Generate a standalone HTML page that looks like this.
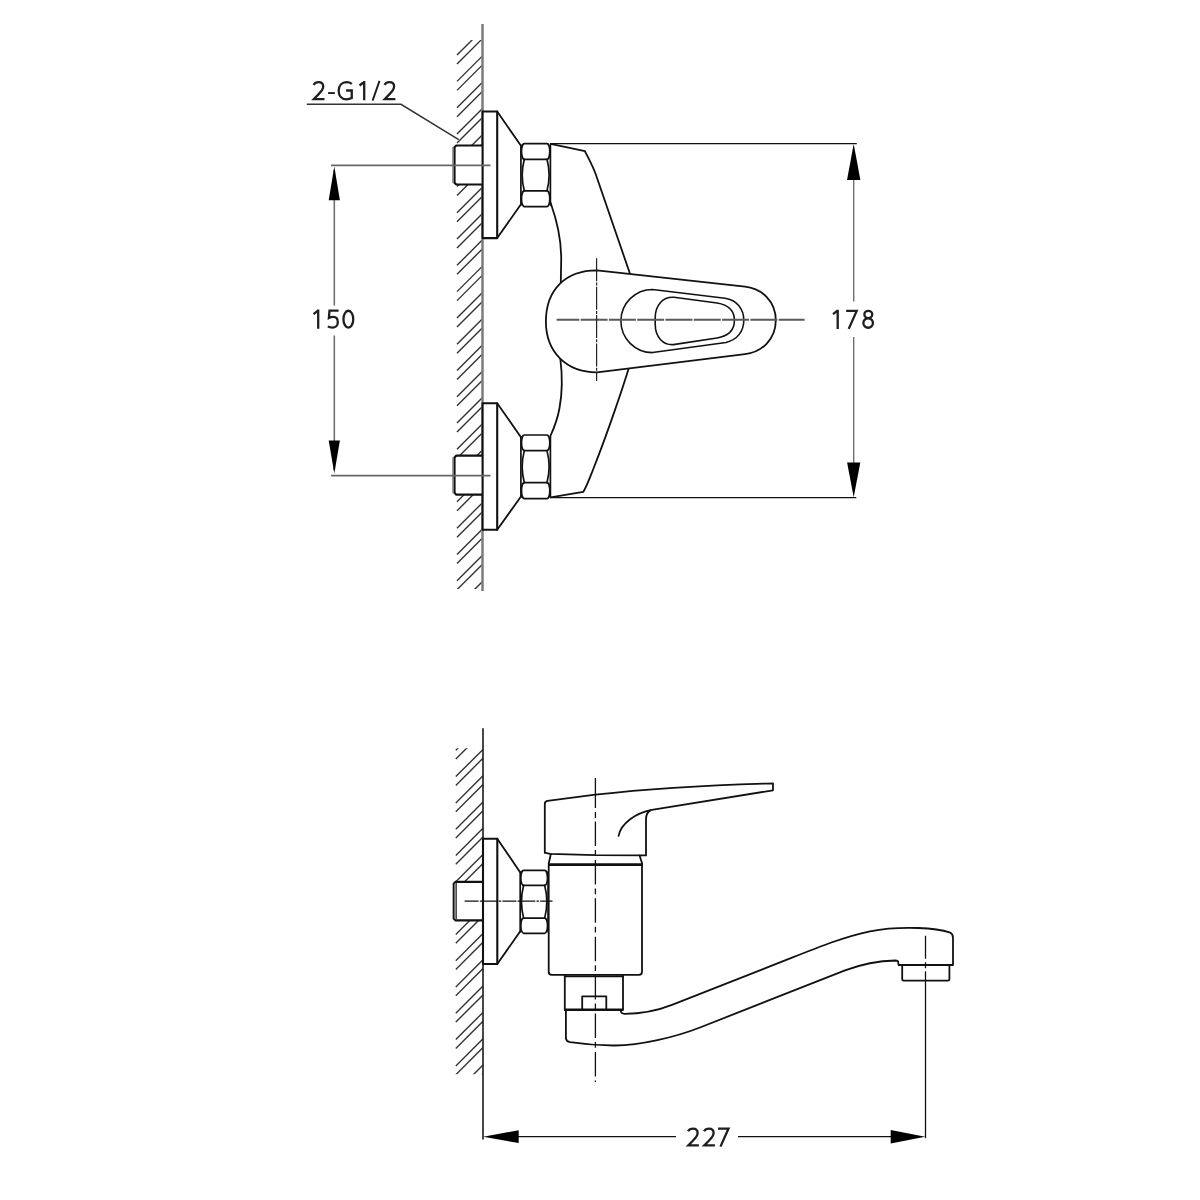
<!DOCTYPE html><html><head><meta charset="utf-8"><title>Mixer drawing</title><style>
html,body{margin:0;padding:0;background:#fff;width:1200px;height:1200px;overflow:hidden}
svg{display:block}
.o{fill:none;stroke:#111;stroke-width:1.8;stroke-linejoin:round;stroke-linecap:round}
.n{fill:none;stroke:#111;stroke-width:1.7;stroke-linecap:round}
.h{stroke:#333;stroke-width:1.4;fill:none}
.t{fill:none;stroke:#111;stroke-width:1.2}
.g{fill:none;stroke:#707070;stroke-width:1.6}
.c{fill:none;stroke:#444;stroke-width:1.3;stroke-dasharray:24 1.6 3 1.6}
.c2{fill:none;stroke:#111;stroke-width:1.3;stroke-dasharray:25 3.5 5.5 3.5}
.w{fill:#fff;stroke:#111;stroke-width:1.8}
.ar{fill:#000;stroke:none}
text{font-family:"Liberation Sans",sans-serif;fill:#222;font-size:26.5px}
</style></head><body>
<svg width="1200" height="1200" viewBox="0 0 1200 1200">
<clipPath id="ht"><rect x="456" y="40" width="26" height="549"/></clipPath>
<g clip-path="url(#ht)" class="h">
<line class="h" x1="457" y1="55.1" x2="482" y2="30.1"/>
<line class="h" x1="457" y1="64.1" x2="482" y2="39.1"/>
<line class="h" x1="457" y1="81.38" x2="482" y2="56.38"/>
<line class="h" x1="457" y1="90.38" x2="482" y2="65.38"/>
<line class="h" x1="457" y1="107.66" x2="482" y2="82.66"/>
<line class="h" x1="457" y1="116.66" x2="482" y2="91.66"/>
<line class="h" x1="457" y1="133.94" x2="482" y2="108.94"/>
<line class="h" x1="457" y1="142.94" x2="482" y2="117.94"/>
<line class="h" x1="457" y1="160.22" x2="482" y2="135.22"/>
<line class="h" x1="457" y1="169.22" x2="482" y2="144.22"/>
<line class="h" x1="457" y1="186.5" x2="482" y2="161.5"/>
<line class="h" x1="457" y1="195.5" x2="482" y2="170.5"/>
<line class="h" x1="457" y1="212.78" x2="482" y2="187.78"/>
<line class="h" x1="457" y1="221.78" x2="482" y2="196.78"/>
<line class="h" x1="457" y1="239.06" x2="482" y2="214.06"/>
<line class="h" x1="457" y1="248.06" x2="482" y2="223.06"/>
<line class="h" x1="457" y1="265.34" x2="482" y2="240.34"/>
<line class="h" x1="457" y1="274.34" x2="482" y2="249.34"/>
<line class="h" x1="457" y1="291.62" x2="482" y2="266.62"/>
<line class="h" x1="457" y1="300.62" x2="482" y2="275.62"/>
<line class="h" x1="457" y1="317.9" x2="482" y2="292.9"/>
<line class="h" x1="457" y1="326.9" x2="482" y2="301.9"/>
<line class="h" x1="457" y1="344.18" x2="482" y2="319.18"/>
<line class="h" x1="457" y1="353.18" x2="482" y2="328.18"/>
<line class="h" x1="457" y1="370.46" x2="482" y2="345.46"/>
<line class="h" x1="457" y1="379.46" x2="482" y2="354.46"/>
<line class="h" x1="457" y1="396.74" x2="482" y2="371.74"/>
<line class="h" x1="457" y1="405.74" x2="482" y2="380.74"/>
<line class="h" x1="457" y1="423.02" x2="482" y2="398.02"/>
<line class="h" x1="457" y1="432.02" x2="482" y2="407.02"/>
<line class="h" x1="457" y1="449.3" x2="482" y2="424.3"/>
<line class="h" x1="457" y1="458.3" x2="482" y2="433.3"/>
<line class="h" x1="457" y1="475.58" x2="482" y2="450.58"/>
<line class="h" x1="457" y1="484.58" x2="482" y2="459.58"/>
<line class="h" x1="457" y1="501.86" x2="482" y2="476.86"/>
<line class="h" x1="457" y1="510.86" x2="482" y2="485.86"/>
<line class="h" x1="457" y1="528.14" x2="482" y2="503.14"/>
<line class="h" x1="457" y1="537.14" x2="482" y2="512.14"/>
<line class="h" x1="457" y1="554.42" x2="482" y2="529.42"/>
<line class="h" x1="457" y1="563.42" x2="482" y2="538.42"/>
<line class="h" x1="457" y1="580.7" x2="482" y2="555.7"/>
<line class="h" x1="457" y1="589.7" x2="482" y2="564.7"/>
<line class="h" x1="457" y1="606.98" x2="482" y2="581.98"/>
</g>
<line x1="482.5" y1="24" x2="482.5" y2="591" stroke="#7c7c7c" stroke-width="2.5"/>
<path d="M482,145.5 L456.3,145.5 L454.5,147.3 L454.5,182.7 L456.3,184.5 L482,184.5" fill="#fff" stroke="#111" stroke-width="2.2"/>
<line x1="452.8" y1="147" x2="452.8" y2="183" stroke="#8a8a8a" stroke-width="1.3"/>
<rect class="o" x="482.6" y="111.5" width="14.6" height="126.6" style="stroke-width:2.1;fill:#fff"/>
<path class="o" d="M497.2,111.5 L520.8,145.6 M497.2,238.1 L520.8,204.6"/>
<line class="n" x1="520.9" y1="145.1" x2="520.9" y2="205.1"/>
<line class="n" x1="550.4" y1="145.1" x2="550.4" y2="205.1"/>
<path class="n" d="M524.3,143.6 L547,143.6 A2.8,7.85 0 0 1 547,159.3 L524.3,159.3 A2.8,7.85 0 0 1 524.3,143.6 Z"/>
<path class="n" d="M524.3,190.8 L547,190.8 A2.8,7.9 0 0 1 547,206.6 L524.3,206.6 A2.8,7.9 0 0 1 524.3,190.8 Z"/>
<path class="n" d="M524.3,159.3 Q520.1,175.05 524.3,190.8"/>
<path class="n" d="M547,159.3 Q551.2,175.05 547,190.8"/>
<path d="M482,455.7 L456.3,455.7 L454.5,457.5 L454.5,492.9 L456.3,494.7 L482,494.7" fill="#fff" stroke="#111" stroke-width="2.2"/>
<line x1="452.8" y1="457.2" x2="452.8" y2="493.2" stroke="#8a8a8a" stroke-width="1.3"/>
<rect class="o" x="482.6" y="403.2" width="14.6" height="126.6" style="stroke-width:2.1;fill:#fff"/>
<path class="o" d="M497.2,403.2 L520.8,437 M497.2,529.8 L520.8,496.7"/>
<line class="n" x1="520.9" y1="436.5" x2="520.9" y2="497.2"/>
<line class="n" x1="550.4" y1="436.5" x2="550.4" y2="497.2"/>
<path class="n" d="M524.3,435 L547,435 A2.8,7.8 0 0 1 547,450.6 L524.3,450.6 A2.8,7.8 0 0 1 524.3,435 Z"/>
<path class="n" d="M524.3,482.6 L547,482.6 A2.8,8.05 0 0 1 547,498.7 L524.3,498.7 A2.8,8.05 0 0 1 524.3,482.6 Z"/>
<path class="n" d="M524.3,450.6 Q520.1,466.6 524.3,482.6"/>
<path class="n" d="M547,450.6 Q551.2,466.6 547,482.6"/>
<line x1="331" y1="165.4" x2="490.5" y2="165.4" stroke="#666" stroke-width="1.8"/>
<line x1="331" y1="475.6" x2="490.5" y2="475.6" stroke="#666" stroke-width="1.8"/>
<path d="M306.8,104.3 L401,104.3 L458.7,139.7" fill="none" stroke="#333" stroke-width="1.5"/>
<path transform="translate(312.6,81)" d="M1.0,3.9 C2.0,2.0 3.9,1.15 6.0,1.15 C8.9,1.15 10.6,2.9 10.6,5.5 C10.6,8.4 8.6,10.6 5.6,13.6 L1.3,18.05 L11.9,18.05" fill="none" stroke="#1e1e1e" stroke-width="2.3" stroke-miterlimit="6"/>
<path d="M328.1,93.05 h6.7" fill="none" stroke="#1e1e1e" stroke-width="1.9"/>
<path transform="translate(337.5,81)" d="M14.3,2.8 C12.9,1.7 11.1,1.15 9.1,1.15 C4.4,1.15 1.15,4.5 1.15,9.8 C1.15,15 4.3,18.3 8.9,18.3 C10.9,18.3 12.8,17.8 14.25,17.0 L14.25,9.5 L8.6,9.5" fill="none" stroke="#1e1e1e" stroke-width="2.3" stroke-miterlimit="6"/>
<path transform="translate(359,81)" d="M0.5,4.5 L5.0,1.0 M5.2,0 L5.2,19.2" fill="none" stroke="#1e1e1e" stroke-width="2.3" stroke-miterlimit="6"/>
<path d="M372.6,100.6 L379.5,80.9" fill="none" stroke="#1e1e1e" stroke-width="1.9"/>
<path transform="translate(383.5,81)" d="M1.0,3.9 C2.0,2.0 3.9,1.15 6.0,1.15 C8.9,1.15 10.6,2.9 10.6,5.5 C10.6,8.4 8.6,10.6 5.6,13.6 L1.3,18.05 L11.9,18.05" fill="none" stroke="#1e1e1e" stroke-width="2.3" stroke-miterlimit="6"/>
<line class="g" x1="334.3" y1="170" x2="334.3" y2="305.5"/>
<line class="g" x1="334.3" y1="335.5" x2="334.3" y2="470"/>
<path class="ar" d="M334.3,166.6 L328.7,200.3 L339.9,200.3 Z"/>
<path class="ar" d="M334.3,473.6 L328.7,440.4 L339.9,440.4 Z"/>
<path transform="translate(313,309.6)" d="M0.5,4.5 L5.0,1.0 M5.2,0 L5.2,19.2" fill="none" stroke="#1e1e1e" stroke-width="2.3" stroke-miterlimit="6"/>
<path transform="translate(327.3,309.6)" d="M11.3,1.1 L2.2,1.1 L1.6,8.4 C3.0,7.6 4.5,7.3 5.9,7.3 C8.9,7.3 10.5,9.6 10.5,12.6 C10.5,16 8.1,18.05 5.0,18.05 C3.2,18.05 1.6,17.5 0.6,16.8" fill="none" stroke="#1e1e1e" stroke-width="2.3" stroke-miterlimit="6"/>
<path transform="translate(342.3,309.6)" d="M6.05,1.15 A4.9,8.45 0 1 1 6.05,18.05 A4.9,8.45 0 1 1 6.05,1.15 Z" fill="none" stroke="#1e1e1e" stroke-width="2.3" stroke-miterlimit="6"/>
<line class="t" x1="550.5" y1="143.6" x2="856.8" y2="143.6"/>
<line class="t" x1="550.5" y1="497.6" x2="856.3" y2="497.6"/>
<line class="g" x1="853.7" y1="175" x2="853.7" y2="301.5" style="stroke-width:1.4"/>
<line class="g" x1="853.7" y1="337" x2="853.7" y2="470" style="stroke-width:1.4"/>
<path class="ar" d="M853.7,144 L847,180 L860.4,180 Z"/>
<path class="ar" d="M853.7,497.2 L847.1,462.5 L860.3,462.5 Z"/>
<path transform="translate(832.5,309.7)" d="M0.5,4.5 L5.0,1.0 M5.2,0 L5.2,19.2" fill="none" stroke="#1e1e1e" stroke-width="2.3" stroke-miterlimit="6"/>
<path transform="translate(846.2,309.7)" d="M0,1.15 L10.5,1.15 L2.5,19.2" fill="none" stroke="#1e1e1e" stroke-width="2.3" stroke-miterlimit="6"/>
<path transform="translate(862.2,309.7)" d="M6.1,1.15 A3.95,3.6 0 1 1 6.1,8.35 A3.95,3.6 0 1 1 6.1,1.15 Z M5.95,8.55 A4.8,4.75 0 1 1 5.95,18.05 A4.8,4.75 0 1 1 5.95,8.55 Z" fill="none" stroke="#1e1e1e" stroke-width="2.3" stroke-miterlimit="6"/>
<path class="o" d="M550.6,143.8 L584.9,151.1 C587.5,156.5 592.9,166 596,175 L630,273.8"/>
<path class="o" d="M550.6,202.8 C556,218 561.5,240 561.2,260 L560.8,282.9"/>
<path class="o" d="M628.6,368.8 C624,384 608,432 593.5,468.5 C590,477.3 586.5,487 583.2,491.9 L550.6,497.4"/>
<path class="o" d="M560.3,358.5 C562,372 562.5,392 559.5,408 C557.5,420 554,428 550.6,435.5"/>
<path class="o" style="fill:#fff" d="M597,270.3 L745,286.6 C762,288.5 775.8,301.5 775.8,320.3 C775.8,339 762,352.3 745,354.2 L597,372.3 C566.3,372.3 545.9,352 545.9,321.5 C545.9,289.8 565.3,270.3 597,270.3 Z"/>
<path class="o" style="stroke-width:1.55" d="M652.5,289.4 L725,298.3 C737,300 743.8,309 743.8,320.2 C743.8,331.5 737,340 726,342.4 L652.5,352.6 A31.6,31.6 0 0 1 652.5,289.4 Z"/>
<path class="o" style="stroke-width:1.6" d="M674,297.3 L717,303 C728.5,304.8 734.4,311 734.4,320.5 C734.4,330 728.5,336 717,338 L675,344.4 C663,346 655.2,337 655.2,324 L655.2,318 C655.2,305 663,296.5 674,297.3 Z"/>
<line x1="556.6" y1="319.8" x2="804.6" y2="319.8" stroke="#5a5a5a" stroke-width="2" stroke-dasharray="27 1.3" stroke-dashoffset="4.3"/>
<line x1="596.6" y1="258.3" x2="596.6" y2="381" stroke="#222" stroke-width="1.2" stroke-dasharray="23 1.2 3 1.2"/>
<clipPath id="hb"><rect x="454.8" y="748.3" width="28.2" height="325.9"/></clipPath>
<g clip-path="url(#hb)" class="h">
<line class="h" x1="455.8" y1="750.3" x2="483" y2="723.1"/>
<line class="h" x1="455.8" y1="759.1" x2="483" y2="731.9"/>
<line class="h" x1="455.8" y1="776.6" x2="483" y2="749.4"/>
<line class="h" x1="455.8" y1="785.4" x2="483" y2="758.2"/>
<line class="h" x1="455.8" y1="802.9" x2="483" y2="775.7"/>
<line class="h" x1="455.8" y1="811.7" x2="483" y2="784.5"/>
<line class="h" x1="455.8" y1="829.2" x2="483" y2="802"/>
<line class="h" x1="455.8" y1="838" x2="483" y2="810.8"/>
<line class="h" x1="455.8" y1="855.5" x2="483" y2="828.3"/>
<line class="h" x1="455.8" y1="864.3" x2="483" y2="837.1"/>
<line class="h" x1="455.8" y1="881.8" x2="483" y2="854.6"/>
<line class="h" x1="455.8" y1="890.6" x2="483" y2="863.4"/>
<line class="h" x1="455.8" y1="908.1" x2="483" y2="880.9"/>
<line class="h" x1="455.8" y1="916.9" x2="483" y2="889.7"/>
<line class="h" x1="455.8" y1="934.4" x2="483" y2="907.2"/>
<line class="h" x1="455.8" y1="943.2" x2="483" y2="916"/>
<line class="h" x1="455.8" y1="960.7" x2="483" y2="933.5"/>
<line class="h" x1="455.8" y1="969.5" x2="483" y2="942.3"/>
<line class="h" x1="455.8" y1="987" x2="483" y2="959.8"/>
<line class="h" x1="455.8" y1="995.8" x2="483" y2="968.6"/>
<line class="h" x1="455.8" y1="1013.3" x2="483" y2="986.1"/>
<line class="h" x1="455.8" y1="1022.1" x2="483" y2="994.9"/>
<line class="h" x1="455.8" y1="1039.6" x2="483" y2="1012.4"/>
<line class="h" x1="455.8" y1="1048.4" x2="483" y2="1021.2"/>
<line class="h" x1="455.8" y1="1065.9" x2="483" y2="1038.7"/>
<line class="h" x1="455.8" y1="1074.7" x2="483" y2="1047.5"/>
<line class="h" x1="455.8" y1="1092.2" x2="483" y2="1065"/>
<line class="h" x1="455.8" y1="1101" x2="483" y2="1073.8"/>
</g>
<line x1="483" y1="728.3" x2="483" y2="1139.5" stroke="#1a1a1a" stroke-width="1.6"/>
<path d="M483,881.9 L455.6,881.9 L453.7,883.8 L453.7,918.5 L455.6,920.4 L483,920.4" fill="#fff" stroke="#111" stroke-width="2.1"/>
<line x1="455.2" y1="883.5" x2="455.2" y2="918.8" stroke="#8a8a8a" stroke-width="1.5"/>
<line x1="456.4" y1="883" x2="456.4" y2="919.3" stroke="#222" stroke-width="0.9"/>
<rect class="o" x="483" y="838.7" width="14.3" height="125.3" style="stroke-width:2.1;fill:#fff"/>
<path class="o" d="M497.3,838.7 L520.1,872.3 M497.3,964 L520.1,931.5"/>
<line class="n" x1="520.2" y1="871.9" x2="520.2" y2="931.8"/>
<line class="n" x1="548.1" y1="871.9" x2="548.1" y2="931.8"/>
<path class="n" d="M523.6,870.4 L544.7,870.4 A2.8,7.5 0 0 1 544.7,885.4 L523.6,885.4 A2.8,7.5 0 0 1 523.6,870.4 Z"/>
<path class="n" d="M523.6,918.1 L544.7,918.1 A2.8,7.6 0 0 1 544.7,933.3 L523.6,933.3 A2.8,7.6 0 0 1 523.6,918.1 Z"/>
<path class="n" d="M523.6,885.4 Q519.4,901.75 523.6,918.1"/>
<path class="n" d="M544.7,885.4 Q548.9,901.75 544.7,918.1"/>
<line class="c2" x1="464.6" y1="901.1" x2="552.5" y2="901.1" style="stroke-dasharray:14 1.2 2.5 1.2;stroke-width:1.2"/>
<path class="o" d="M544.8,852.6 L544.8,804 Q544.8,801.3 547.5,800.8 L595.4,794.7 C640,789.5 700,785.2 773,783.3 L773,790.3 L651.8,809.9 C636,813 621,823 618.6,835.8"/>
<path class="o" d="M544.8,852.6 L550,853.8 L595.4,855.2 L646,855.4 L646,819 Q646.2,812.5 650.5,810.4"/>
<path class="o" d="M550.8,854.2 L548.7,863.6 M639.6,855.5 L642.1,863.6"/>
<path class="o" d="M548.7,864.6 L548.7,971.8 Q548.7,974.8 551.7,974.8 L639,974.8 Q642,974.8 642,971.8 L642,864.6"/>
<line x1="548" y1="864.6" x2="642.6" y2="864.6" stroke="#111" stroke-width="2.6"/>
<path class="o" d="M564.8,975.8 L564.8,1009.6 M623,975.8 L623,1009.6"/>
<line x1="564" y1="976.4" x2="623.8" y2="976.4" stroke="#111" stroke-width="1.6"/>
<line x1="564" y1="1009.7" x2="623.6" y2="1009.7" stroke="#111" stroke-width="2.6"/>
<path class="o" d="M582.2,1009.3 L582.2,996.3 L606.3,996.3 L606.3,1009.3"/>
<path class="o" d="M565.9,1010.8 L565.9,1038.5 Q566.5,1041.5 570,1042.2 C585,1044.5 600,1045.6 615,1045.5 C640,1045.3 675,1037.35 700,1027.5 L845,970.4 C858,965.5 875,961 895.5,960.5 Q898,960.6 898.2,962 L898.5,965 L953,965 L953,937.5 Q953,934 949.5,932.3 C944,930.5 935,928.7 918,928 C903,927.5 887,928 870,931.3 C845,936.5 820,946.5 792,957.7 L672,1004.9 C652,1012.8 636,1013.8 624.5,1013.8 Q620.8,1013.8 620.6,1010"/>
<path class="o" d="M902.2,965 L902.2,979 Q902.2,980.6 903.8,980.6 L947.8,980.6 Q949.4,980.6 949.4,979 L949.4,965"/>
<path fill="none" stroke="#111" stroke-width="1.3" d="M595.4,778 V808 M595.4,812 V818 M595.4,821.5 V846 M595.4,850 V855.8 M595.4,859.9 V884.4 M595.4,888.4 V894.2 M595.4,898.3 V922.8 M595.4,926.8 V932.6 M595.4,936.7 V961.2 M595.4,965.2 V971 M595.4,975.1 V999.6 M595.4,1003.6 V1009.4 M595.4,1013.5 V1038 M595.4,1042 V1047.8 M595.4,1051.9 V1076.4 M595.4,1080.4 V1082"/>
<path fill="none" stroke="#111" stroke-width="1.3" d="M925.5,935.7 V958.7 M925.5,962.3 V968.3 M925.5,971.3 V1138.3"/>
<line class="t" x1="500" y1="1136.7" x2="676" y2="1136.7"/>
<line class="t" x1="738" y1="1136.7" x2="910" y2="1136.7"/>
<path class="ar" d="M483.2,1136.7 L518.7,1130.3 L518.7,1143.1 Z"/>
<path class="ar" d="M925.2,1136.7 L890.7,1130 L890.7,1143.4 Z"/>
<path transform="translate(687,1127.4)" d="M1.0,3.9 C2.0,2.0 3.9,1.15 6.0,1.15 C8.9,1.15 10.6,2.9 10.6,5.5 C10.6,8.4 8.6,10.6 5.6,13.6 L1.3,18.05 L11.9,18.05" fill="none" stroke="#1e1e1e" stroke-width="2.3" stroke-miterlimit="6"/>
<path transform="translate(703,1127.4)" d="M1.0,3.9 C2.0,2.0 3.9,1.15 6.0,1.15 C8.9,1.15 10.6,2.9 10.6,5.5 C10.6,8.4 8.6,10.6 5.6,13.6 L1.3,18.05 L11.9,18.05" fill="none" stroke="#1e1e1e" stroke-width="2.3" stroke-miterlimit="6"/>
<path transform="translate(718,1127.4)" d="M0,1.15 L10.5,1.15 L2.5,19.2" fill="none" stroke="#1e1e1e" stroke-width="2.3" stroke-miterlimit="6"/>
</svg></body></html>
